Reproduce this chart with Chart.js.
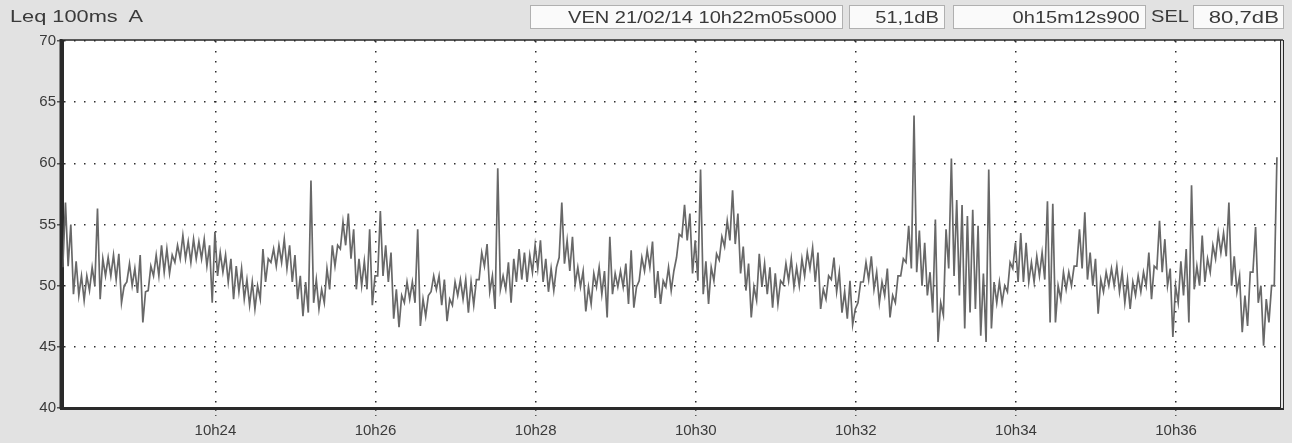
<!DOCTYPE html>
<html>
<head>
<meta charset="utf-8">
<title>Leq 100ms A</title>
<script src="https://cdn.jsdelivr.net/npm/chart.js@4.4.1/dist/chart.umd.min.js"></script>
<style>
  html, body { margin: 0; padding: 0; background: #e2e2e2; }
  #wrap { position: relative; width: 1292px; height: 443px; overflow: hidden;
          font-family: "Liberation Sans", Arial, sans-serif; color: #3a3a3a; }
  #chart { position: absolute; left: 0; top: 0; }
  .hdr { position: absolute; top: 5px; height: 24px; line-height: 24px; font-size: 17px; white-space: nowrap; }
  .box { background: #fafafa; border: 1px solid #b0b0b0; box-sizing: border-box; text-align: right; padding-right: 5px; }
  .sx { display: inline-block; transform: scaleX(1.18); transform-origin: right center; }
  .sxl { display: inline-block; transform: scaleX(1.18); transform-origin: left center; }
</style>
</head>
<body>
<div id="wrap">
  <canvas id="chart" width="1292" height="443"></canvas>
  <div class="hdr" style="left:10px;"><span class="sxl" style="transform:scaleX(1.28);">Leq 100ms&nbsp; A</span></div>
  <div class="hdr box" style="left:530px; width:313px;"><span class="sx">VEN 21/02/14 10h22m05s000</span></div>
  <div class="hdr box" style="left:849px; width:96px;"><span class="sx">51,1dB</span></div>
  <div class="hdr box" style="left:953px; width:193px;"><span class="sx">0h15m12s900</span></div>
  <div class="hdr" style="left:1151px;"><span class="sxl">SEL</span></div>
  <div class="hdr box" style="left:1193px; width:91px; padding-right:4px;"><span class="sx" style="transform:scaleX(1.3);">80,7dB</span></div>
</div>
<script>
/* ─────────────────────────────────────────────
 * DATA  (Leq 100 ms, dB(A); min / max per 4 s slice)
 * ───────────────────────────────────────────── */
const startTime       = '10h22m05s';
const durationSeconds = 912.9;
const sliceSeconds    = 4;

const xTickLabels = ['10h24', '10h26', '10h28', '10h30', '10h32', '10h34', '10h36'];
const yTickValues = [40, 45, 50, 55, 60, 65, 70];

const lowDb = [
  51.5, 51.6, 49.3, 49.2, 48.8, 49.6, 50.0, 48.9, 50.8, 50.8,
  50.5, 48.6, 50.3, 50.0, 49.4, 47.0, 49.6, 50.8, 50.8, 51.1,
  51.0, 51.9, 52.2, 52.2, 51.9, 52.2, 52.2, 51.6, 48.6, 50.8,
  51.1, 50.3, 48.9, 49.5, 48.9, 48.4, 48.1, 48.9, 50.3, 51.9,
  51.6, 51.9, 51.4, 50.3, 48.9, 47.5, 47.8, 48.6, 48.1, 48.6,
  49.7, 51.6, 53.0, 53.3, 52.2, 49.7, 50.0, 49.7, 48.4, 50.8,
  50.8, 50.3, 47.3, 46.6, 48.6, 48.9, 48.6, 46.7, 47.5, 49.5,
  49.7, 48.4, 47.1, 48.4, 49.2, 48.9, 47.8, 48.4, 50.5, 51.6,
  49.5, 48.1, 49.7, 49.7, 48.6, 50.3, 50.5, 50.3, 51.1, 51.4,
  50.3, 49.5, 49.6, 52.3, 51.8, 51.2, 50.1, 49.9, 47.9, 48.5,
  49.9, 49.3, 47.4, 49.3, 49.9, 49.9, 48.5, 48.2, 50.4, 51.2,
  51.5, 49.0, 48.5, 49.9, 49.6, 52.3, 54.0, 53.7, 51.0, 50.4,
  49.3, 48.5, 50.4, 52.1, 53.2, 53.7, 53.4, 51.0, 49.6, 47.4,
  48.8, 49.9, 49.3, 48.2, 48.5, 50.1, 50.4, 49.9, 50.0, 50.8,
  51.4, 50.3, 48.1, 48.9, 50.5, 49.5, 47.8, 47.3, 46.8, 48.6,
  50.3, 50.5, 49.7, 48.6, 49.2, 47.4, 48.6, 50.8, 51.9, 51.4,
  51.1, 50.0, 49.2, 47.8, 45.4, 47.6, 51.4, 50.8, 49.2, 46.5,
  47.8, 48.1, 45.9, 45.4, 46.5, 48.6, 48.6, 49.5, 51.4, 50.3,
  50.3, 50.3, 50.3, 50.8, 50.5, 47.0, 47.0, 48.9, 49.7, 50.0,
  51.6, 51.4, 50.5, 50.0, 47.7, 49.5, 50.0, 50.0, 49.5, 48.6,
  48.1, 49.2, 49.5, 50.0, 48.9, 51.4, 51.1, 50.0, 45.8, 48.6,
  49.2, 47.0, 49.7, 50.0, 50.3, 51.1, 52.2, 52.7, 52.4, 50.0,
  49.5, 46.2, 46.7, 51.1, 48.6, 45.1, 47.0, 50.0
];

const highDb = [
  56.8, 55.0, 52.0, 50.8, 50.8, 51.5, 56.3, 52.2, 52.3, 52.5,
  52.6, 50.0, 51.8, 51.4, 52.5, 49.5, 51.6, 52.5, 53.3, 53.0,
  52.5, 53.3, 54.1, 53.6, 53.8, 53.6, 53.8, 53.3, 54.4, 52.7,
  52.5, 52.2, 51.6, 51.4, 50.5, 50.3, 50.0, 53.0, 52.2, 53.0,
  53.3, 53.8, 53.3, 52.5, 50.8, 50.3, 58.6, 50.5, 49.7, 51.4,
  53.3, 53.3, 55.2, 55.9, 54.6, 52.2, 52.0, 54.6, 50.8, 56.1,
  53.3, 52.7, 49.7, 49.2, 50.3, 50.3, 54.6, 48.9, 49.2, 50.8,
  50.8, 50.5, 48.9, 50.3, 50.5, 50.5, 50.3, 50.5, 52.7, 53.4,
  50.8, 59.6, 50.8, 51.9, 52.2, 53.0, 52.7, 52.5, 53.3, 53.7,
  52.2, 51.4, 51.5, 56.8, 53.7, 54.0, 51.5, 51.2, 49.9, 51.0,
  51.5, 51.2, 54.0, 51.0, 51.2, 51.8, 52.9, 49.9, 52.3, 52.9,
  53.6, 51.2, 50.4, 51.5, 51.2, 54.2, 56.6, 55.9, 53.7, 59.5,
  52.0, 51.5, 52.6, 54.0, 55.3, 57.8, 55.9, 53.2, 51.8, 49.9,
  52.6, 51.8, 51.5, 51.0, 50.4, 51.8, 52.2, 51.5, 52.2, 52.7,
  53.1, 52.7, 49.7, 50.8, 52.3, 51.1, 49.5, 50.4, 48.1, 50.3,
  51.9, 52.4, 51.1, 50.3, 51.4, 49.2, 50.8, 52.2, 54.9, 63.9,
  54.5, 53.5, 51.1, 55.4, 48.6, 54.6, 60.4, 57.0, 56.6, 55.7,
  56.2, 54.9, 51.0, 59.5, 50.3, 50.3, 50.0, 51.9, 53.5, 54.3,
  53.5, 51.9, 52.4, 52.7, 56.9, 56.7, 50.0, 51.1, 51.1, 51.6,
  54.6, 56.0, 52.7, 52.2, 50.5, 51.1, 51.4, 51.6, 51.1, 50.5,
  50.3, 50.8, 51.1, 52.7, 51.6, 55.3, 53.8, 51.4, 50.0, 52.0,
  53.0, 58.2, 51.6, 54.1, 52.2, 53.3, 54.3, 54.3, 56.8, 52.4,
  50.8, 49.2, 51.1, 54.8, 50.0, 48.9, 50.0, 60.5
];

/* ─────────────────────────────────────────────
 * HELPERS
 * ───────────────────────────────────────────── */
function clockToSeconds(label) {
  const m = label.match(/(\d+)h(\d+)(?:m(\d+)s)?/);
  return (+m[1]) * 3600 + (+m[2]) * 60 + (m[3] ? +m[3] : 0);
}

const t0 = clockToSeconds(startTime);
const xTickSeconds = xTickLabels.map(l => clockToSeconds(l) - t0);

// each slice drawn as a min -> max stroke, like the recorder's trace
const tracePoints = [];
lowDb.forEach((lo, i) => {
  tracePoints.push({ x: i * sliceSeconds + 0.6, y: lo });
  tracePoints.push({ x: i * sliceSeconds + 2.6, y: highDb[i] });
});

const FONT = '"Liberation Sans", Arial, sans-serif';

/* ─────────────────────────────────────────────
 * PLUGINS: white plot area + frame
 * ───────────────────────────────────────────── */
const plotBackground = {
  id: 'plotBackground',
  beforeDraw(chart) {
    const { ctx, chartArea: a } = chart;
    ctx.save();
    ctx.fillStyle = '#ffffff';
    ctx.fillRect(a.left, a.top, a.right - a.left, a.bottom - a.top);
    ctx.restore();
  }
};

const plotFrame = {
  id: 'plotFrame',
  afterDraw(chart) {
    const { ctx, chartArea: a } = chart;
    ctx.save();
    ctx.strokeStyle = '#2a2a2a';
    ctx.lineWidth = 1.5;
    ctx.beginPath(); ctx.moveTo(a.left, a.top - 1); ctx.lineTo(a.right + 3, a.top - 1); ctx.stroke();
    ctx.lineWidth = 3;
    ctx.beginPath(); ctx.moveTo(a.left - 1, a.top - 2); ctx.lineTo(a.left - 1, a.bottom + 1); ctx.stroke();
    ctx.lineWidth = 2;
    ctx.beginPath(); ctx.moveTo(a.left - 2, a.bottom + 1); ctx.lineTo(a.right + 4, a.bottom + 1); ctx.stroke();
    ctx.lineWidth = 1;
    ctx.beginPath(); ctx.moveTo(a.right + 0.5, a.top - 1); ctx.lineTo(a.right + 0.5, a.bottom + 1); ctx.stroke();
    ctx.beginPath(); ctx.moveTo(a.right + 3.5, a.top - 1); ctx.lineTo(a.right + 3.5, a.bottom + 1); ctx.stroke();
    ctx.restore();
  }
};

/* ─────────────────────────────────────────────
 * CHART
 * ───────────────────────────────────────────── */
new Chart(document.getElementById('chart').getContext('2d'), {
  type: 'line',
  data: {
    datasets: [{
      data: tracePoints,
      borderColor: '#686868',
      borderWidth: 1.7,
      pointRadius: 0,
      tension: 0,
      fill: false,
    }],
  },
  options: {
    responsive: false,
    animation: false,
    devicePixelRatio: 1,
    layout: { padding: { top: 41, right: 12, bottom: 0, left: 0 } },
    plugins: { legend: { display: false }, tooltip: { enabled: false } },
    scales: {
      x: {
        type: 'linear',
        min: 0,
        max: durationSeconds,
        afterBuildTicks: s => { s.ticks = xTickSeconds.map(v => ({ value: v })); },
        afterFit: s => { s.height = 35; },
        ticks: {
          autoSkip: false,
          maxRotation: 0,
          padding: 6,
          color: '#3a3a3a',
          font: { family: FONT, size: 15 },
          callback: v => xTickLabels[xTickSeconds.indexOf(v)] ?? '',
        },
        grid: { color: '#2e2e2e', lineWidth: 1.5, tickLength: 8, tickColor: '#555', tickBorderDash: [2, 4] },
        border: { display: true, color: '#2a2a2a', width: 2, dash: [1.5, 8.5] },
      },
      y: {
        min: 40,
        max: 70,
        afterBuildTicks: s => { s.ticks = yTickValues.map(v => ({ value: v })); },
        afterFit: s => { s.width = 62; },
        ticks: {
          padding: 1,
          color: '#3a3a3a',
          font: { family: FONT, size: 15 },
        },
        grid: { color: '#2e2e2e', lineWidth: 1.5, tickLength: 5, tickColor: '#555', tickWidth: 1.5, tickBorderDash: [] },
        border: { display: true, color: '#2a2a2a', width: 3, dash: [1.5, 8.5] },
      },
    },
  },
  plugins: [plotBackground, plotFrame],
});
</script>
</body>
</html>
